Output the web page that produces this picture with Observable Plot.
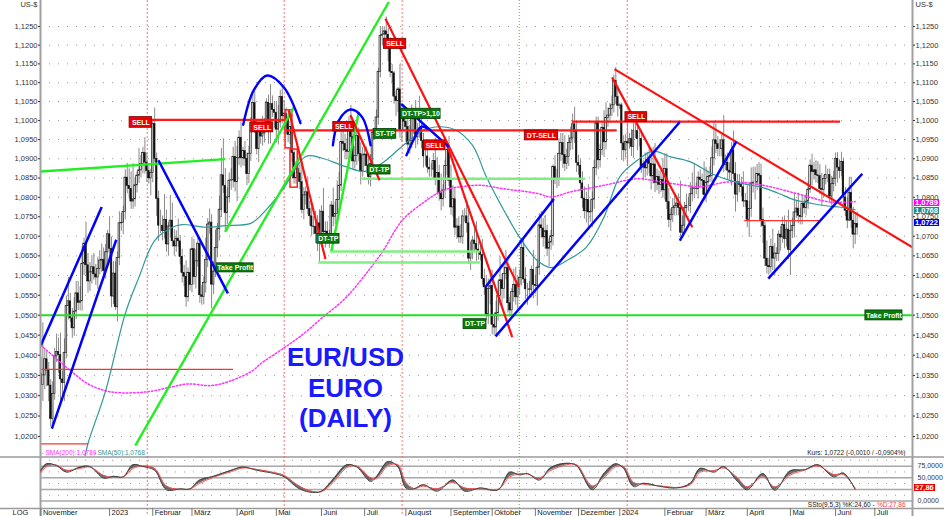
<!DOCTYPE html>
<html><head><meta charset="utf-8">
<script src="https://cdn.jsdelivr.net/npm/d3@7"></script>
<script src="https://cdn.jsdelivr.net/npm/@observablehq/plot@0.6"></script>
<style>
body{margin:0;background:#fff;font-family:"Liberation Sans",Arial,sans-serif;}
#wrap{position:relative;width:944px;height:516px;overflow:hidden;background:#fff;}
.box{position:absolute;color:#fff;font:bold 7.5px "Liberation Sans",Arial,sans-serif;line-height:7px;height:7px;padding:0 1px;white-space:nowrap;}
</style></head><body><div id="wrap"></div>
<script>
// ---------- DATA ----------
// trading days (Mon-Fri) from 14 Nov 2022 to 18 Jun 2024, index 0..416
const firstOpen = 1.0355;
const closes = [
1.0326,1.0350,1.0390,1.0362,1.0325, 1.0243,1.0304,1.0397,1.0408,1.0400,
1.0340,1.0331,1.0406,1.0523,1.0535, 1.0492,1.0467,1.0509,1.0555,1.0531,
1.0535,1.0630,1.0681,1.0626,1.0585, 1.0608,1.0621,1.0603,1.0595,1.0617,
1.0638,1.0640,1.0611,1.0659,1.0705, 1.0668,1.0547,1.0605,1.0520,1.0645,
1.0733,1.0734,1.0762,1.0851,1.0829, 1.0821,1.0789,1.0795,1.0831,1.0856,
1.0870,1.0886,1.0915,1.0890,1.0868, 1.0849,1.0863,1.0991,1.0900,1.0796,
1.0727,1.0727,1.0713,1.0742,1.0679, 1.0725,1.0740,1.0687,1.0674,1.0694,
1.0687,1.0647,1.0606,1.0597,1.0545, 1.0607,1.0576,1.0667,1.0596,1.0636,
1.0681,1.0550,1.0546,1.0581,1.0640, 1.0730,1.0735,1.0577,1.0610,1.0670,
1.0718,1.0768,1.0857,1.0830,1.0759, 1.0800,1.0843,1.0844,1.0905,1.0839,
1.0902,1.0955,1.0901,1.0920,1.0900, 1.0860,1.0913,1.0993,1.1046,1.0991,
1.0925,1.0971,1.0958,1.0966,1.0990, 1.1047,1.0973,1.1043,1.1028,1.1020,
1.0976,1.0995,1.1062,1.1011,1.1018, 1.1003,1.0962,1.0983,1.0915,1.0849,
1.0873,1.0862,1.0839,1.0767,1.0805, 1.0813,1.0770,1.0751,1.0725,1.0724,
1.0706,1.0733,1.0689,1.0763,1.0710, 1.0712,1.0694,1.0700,1.0779,1.0749,
1.0757,1.0793,1.0830,1.0944,1.0939, 1.0922,1.0918,1.0985,1.0957,1.0893,
1.0907,1.0960,1.0912,1.0867,1.0909, 1.0911,1.0881,1.0852,1.0886,1.0968,
1.0970,1.1008,1.1128,1.1225,1.1228, 1.1237,1.1228,1.1201,1.1129,1.1125,
1.1063,1.1051,1.1082,1.0973,1.1017, 1.0997,1.0983,1.0937,1.0947,1.1006,
1.1003,1.0956,1.0973,1.0979,1.0946, 1.0906,1.0906,1.0877,1.0872,1.0872,
1.0894,1.0845,1.0863,1.0810,1.0795, 1.0818,1.0881,1.0923,1.0843,1.0774,
1.0795,1.0722,1.0725,1.0697,1.0699, 1.0751,1.0751,1.0733,1.0643,1.0660,
1.0689,1.0680,1.0666,1.0659,1.0652, 1.0591,1.0570,1.0502,1.0566,1.0573,
1.0476,1.0469,1.0505,1.0548,1.0588, 1.0566,1.0604,1.0619,1.0530,1.0512,
1.0558,1.0576,1.0545,1.0577,1.0594, 1.0670,1.0590,1.0565,1.0565,1.0564,
1.0614,1.0576,1.0573,1.0620,1.0728, 1.0720,1.0697,1.0713,1.0668,1.0684,
1.0700,1.0879,1.0848,1.0848,1.0913, 1.0941,1.0910,1.0887,1.0905,1.0941,
1.0953,1.0990,1.0970,1.0889,1.0882, 1.0836,1.0797,1.0764,1.0793,1.0761,
1.0762,1.0794,1.0876,1.0993,1.0896, 1.0923,1.0981,1.0943,1.1007,1.1013,
1.1030,1.1040,1.1105,1.1062,1.1039, 1.1040,1.0940,1.0922,1.0944,1.0940,
1.0951,1.0931,1.0972,1.0972,1.0951, 1.0951,1.0877,1.0885,1.0875,1.0897,
1.0886,1.0854,1.0885,1.0837,1.0853, 1.0832,1.0845,1.0818,1.0873,1.0788,
1.0742,1.0755,1.0772,1.0777,1.0784, 1.0772,1.0709,1.0727,1.0772,1.0778,
1.0778,1.0808,1.0823,1.0822,1.0821, 1.0851,1.0845,1.0842,1.0806,1.0838,
1.0853,1.0855,1.0901,1.0948,1.0938, 1.0925,1.0925,1.0948,1.0884,1.0890,
1.0869,1.0864,1.0922,1.0860,1.0807, 1.0839,1.0832,1.0826,1.0789,1.0790,
1.0742,1.0770,1.0836,1.0838,1.0838, 1.0860,1.0856,1.0742,1.0726,1.0643,
1.0624,1.0621,1.0673,1.0643,1.0656, 1.0655,1.0704,1.0697,1.0729,1.0693,
1.0717,1.0665,1.0714,1.0726,1.0761, 1.0771,1.0752,1.0749,1.0783,1.0772,
1.0789,1.0820,1.0882,1.0865,1.0870, 1.0857,1.0855,1.0822,1.0819,1.0847,
1.0858,1.0858,1.0802,1.0834,1.0848, 1.0900,1.0877,1.0868,1.0892,1.0800,
1.0765,1.0740,1.0812,1.0740,1.0704, 1.0732,1.0722
];
// upper / lower shadow beyond the body, in pips
const wickUp = [
40,131,25,20,20, 15,30,20,45,35, 55,20,35,25,60, 20,25,35,30,30,
37,43,14,55,30, 25,30,35,25,30, 25,40,30,20,10, 45,30,30,30,15,
30,25,15,20,37, 45,45,92,20,10, 57,23,15,40,25, 20,10,7,42,15,
20,40,25,65,25, 10,65,45,30,20, 50,15,20,20,40, 12,60,30,25,30,
13,15,25,15,55, 15,35,20,25,45, 15,35,70,95,45, 25,20,30,25,40,
30,18,40,10,25, 15,20,15,22,30, 10,20,20,45,15, 10,20,52,22,22,
30,45,18,30,35, 15,15,15,35,10, 20,35,25,55,20, 15,40,20,25,25,
40,20,35,15,60, 25,25,15,10,45, 30,50,35,25,30, 25,30,25,55,40,
25,15,20,30,20, 15,20,20,25,10, 10,20,10,25,20, 12,39,17,18,19,
5,15,5,67,26, 25,20,30,40,35, 10,50,20,85,30, 20,20,35,25,15,
20,60,40,20,50, 15,15,22,35,40, 35,30,20,25,30, 15,20,40,35,25,
10,30,57,20,20, 40,25,30,25,40, 40,25,30,40,60, 15,25,45,20,15,
10,40,45,20,20, 25,25,30,15,20, 10,50,25,20,30, 35,25,40,15,10,
15,5,30,25,40, 25,25,50,20,20, 30,27,45,30,20, 15,30,30,20,40,
30,20,20,16,16, 15,15,45,40,20, 15,25,15,35,30, 5,6,20,20,50,
15,25,30,25,50, 20,20,10,30,20, 30,40,45,55,20, 15,25,55,40,40,
35,15,25,25,20, 25,70,25,15,30, 20,30,40,65,15, 15,20,15,50,40,
15,25,30,50,43, 20,25,15,65,20, 25,20,20,50,30, 20,20,20,40,20,
40,20,40,40,40, 25,30,30,30,10, 45,20,20,45,25, 15,10,20,20,23,
20,50,25,20,50, 20,40,20,20,20, 20,20,15,30,20, 25,35,30,40,10,
25,15,15,20,20, 15,16,20,25,10, 25,35,40,40,35, 25,30
];
const wickDn = [
60,40,35,40,40, 20,25,15,15,45, 55,40,45,15,35, 10,25,20,20,20,
20,25,30,25,30, 25,30,15,20,30, 15,30,25,20,30, 30,28,20,8,37,
20,20,30,20,20, 25,20,20,20,20, 20,20,25,30,30, 15,45,25,10,45,
40,20,25,20,20, 30,30,15,25,15, 15,20,25,25,25, 12,15,20,20,30,
15,20,21,20,25, 20,25,61,25,15, 25,30,20,20,45, 30,15,25,20,25,
50,20,25,20,20, 30,25,20,20,25, 15,35,20,25,25, 20,35,35,20,40,
35,40,15,20,50, 25,20,25,25,15, 15,20,20,10,25, 25,15,25,25,20,
25,45,54,15,25, 40,15,25,20,25, 20,20,30,15,20, 25,20,30,25,20,
20,25,20,35,15, 30,20,20,25,25, 20,10,20,15,25, 15,20,45,15,25,
20,40,30,20,30, 25,40,25,25,20, 40,30,20,20,20, 30,25,15,20,20,
25,15,40,20,30, 20,20,25,15,20, 25,20,30,15,15, 20,15,25,15,30,
20,20,30,20,15, 15,20,15,25,40, 25,21,20,20,25, 50,25,15,25,17,
20,25,20,30,25, 20,10,25,40,20, 20,35,20,50,20, 25,25,30,20,45,
20,25,15,25,20, 20,35,20,15,25, 20,30,30,25,25, 20,25,20,30,38,
25,40,25,20,25, 20,15,40,20,25, 15,20,20,20,30, 10,45,30,20,60,
15,25,30,20,30, 20,15,35,25,20, 25,35,20,25,20, 25,20,20,25,20,
20,30,20,20,25, 20,11,14,20,15, 15,20,20,25,15, 25,20,20,15,20,
20,15,15,20,25, 20,20,20,20,15, 25,20,35,15,45, 20,20,25,15,15,
20,45,20,25,45, 20,30,20,45,20, 20,20,15,30,45, 20,20,35,15,25,
20,25,65,20,30, 15,20,20,20,15, 20,20,10,35,20, 20,20,15,40,20,
15,20,15,25,20, 20,40,20,15,20, 15,21,3,20,36, 25,20
];

const priceTicks = [1.020,1.025,1.030,1.035,1.040,1.045,1.050,1.055,1.060,1.065,1.070,1.075,
  1.080,1.085,1.090,1.095,1.100,1.105,1.110,1.115,1.120,1.125];
const monthIdx = [0,35,57,77,100,120,143,165,186,209,230,252,274,295,318,339,360,382,405,425];
const monthLabels = ["November","2023","Februar","März","April","Mai","Juni","Juli","August",
  "September","Oktober","November","Dezember","2024","Februar","März","April","Mai","Juni","Juli"];

const sma50Idx = [22,24,33,43,50,58,67,72,84,94,107,112,123,135,143,155,165,174,184,194,201,211,220,227,236,
  244,253,260,268,278,287,295,304,312,321,331,342,351,359,368,376,385,393,402,407,415];
const sma50 = [1.0140,1.0183,1.0312,1.0504,1.0596,1.0689,1.0723,1.0730,1.0723,1.0727,1.0733,1.0753,1.0818,
  1.0906,1.0902,1.0880,1.0867,1.0889,1.0932,1.0971,1.0983,1.0976,1.0935,1.0853,1.0766,1.0697,1.0638,1.0620,
  1.0638,1.0672,1.0749,1.0853,1.0896,1.0920,1.0905,1.0892,1.0861,1.0844,1.0834,1.0825,1.0810,1.0792,1.0784,
  1.0777,1.0775,1.0768];
const sma200Idx = [0,7,16,24,33,41,55,67,75,87,97,108,112,122,133,143,155,165,174,184,194,205,215,224,236,
  253,260,270,287,304,314,328,336,351,368,385,402,415];
const sma200 = [1.0425,1.0395,1.0358,1.0329,1.0312,1.0307,1.0310,1.0322,1.0329,1.0325,1.0337,1.0362,1.0379,
  1.0412,1.0450,1.0492,1.0542,1.0600,1.0660,1.0740,1.0783,1.0818,1.0828,1.0831,1.0822,1.0810,1.0801,1.0814,
  1.0831,1.0848,1.0842,1.0831,1.0827,1.0840,1.0831,1.0810,1.0788,1.0789];

const stochIdx = [0,3,8,13,20,25,32,37,42,47,52,58,64,71,76,81,88,97,103,110,119,124,131,137,143,149,156,161,
  168,171,177,182,186,190,195,202,210,216,224,233,239,244,248,254,260,268,273,281,287,293,297,302,307,316,324,
  331,336,343,348,355,360,368,374,382,389,396,404,409,415];
const stochK = [66,80,76,62,73,74,49,53,52,78,74,66,24,26,26,45,53,66,73,66,59,52,28,19,21,47,78,73,42,52,
  85,73,28,26,35,21,45,21,28,24,62,56,59,45,72,81,76,24,59,80,70,31,38,31,28,38,70,62,74,42,24,59,23,65,67,78,52,60,24.6];
const stochD = [60,74,77,66,70,73,55,51,52,70,75,70,32,25,26,38,51,63,71,68,61,55,34,22,20,40,72,75,50,48,
  76,78,40,27,32,26,40,28,26,25,52,58,58,49,66,78,78,32,50,74,74,40,36,32,29,35,62,65,71,50,30,52,30,56,66,75,57,57,27.86];

// annotation lines: [idx1, price1, idx2, price2]
const blueLines = [[0,1.0425,31.0,1.0775],[5.6,1.0219,38.4,1.0691],[59.9,1.0896,95.3,1.0555],
  [183.6,1.1044,207.9,1.0931],[226.6,1.0571,261.4,1.0796],[231.7,1.0447,325.6,1.0996],
  [325.6,1.0689,354.4,1.0945],[370.7,1.0592,418.6,1.0861]];
const blueArcA = [[103.1,1.0989],[108.5,1.1080],[115.3,1.1119],[123.8,1.1088],[132.3,1.0993]];
const blueArcB = [[148.8,1.0935],[151.8,1.1000],[157.8,1.1029],[163.7,1.1009],[168.0,1.0935]];
const blueArcC = [[186.3,1.0909],[190.3,1.0953],[193.9,1.0984],[197.0,1.0979]];
const redLines = [[126.3,1.1027,145.0,1.0642],[157.8,1.1014,172.6,1.0844],[175.6,1.1271,243.6,1.0571],
  [207.1,1.0935,240.2,1.0445],[292.3,1.1136,444.2,1.0672],[291.1,1.1114,332.0,1.0723]];
const greenLines = [[0,1.0867,94.0,1.0899],[48.1,1.0178,177.3,1.1316],[93.9,1.0711,128.9,1.1035],
  [148.1,1.0663,162.0,1.1023]];
// horizontal levels: [idx1, idx2, price]
const redLevels = [[56.7,124.7,1.1002],[124.7,293.7,1.0974],[270.8,407.5,1.0997]];
const redThinLevels = [[-0.2,98.2,1.0365],[-0.2,24.3,1.0182],[358.7,397.3,1.0740]];
const greenMainLevel = [[-0.2,444.2,1.0500]];
const greenLevels = [[163.7,277.6,1.0848],[147.6,224.0,1.0661],[141.6,224.0,1.0633]];
const redBoxes = [[124.7,128.1,1.1027,1.0927],[127.2,130.9,1.0924,1.0825]];
// signal labels: [text, idx1, idx2, priceTop, priceBottom]
const sellLabels = [["SELL",45.2,56.7,1.1009,1.0981],["SELL",107.2,118.4,1.0995,1.0969],
  ["SELL",149.0,159.8,1.0996,1.0971],["SELL",174.8,186.2,1.1217,1.1190],["SELL",195.1,206.2,1.0948,1.0922],
  ["DT-SELL",246.6,263.6,1.0974,1.0948],["SELL",297.9,309.0,1.1022,1.0996]];
const tpLabels = [["Take Profit",89.6,108.4,1.0631,1.0608],["DT-TP",140.8,152.2,1.0706,1.0681],
  ["ST-TP",169.7,181.1,1.0978,1.0952],["DT-TP",166.8,178.2,1.0883,1.0859],
  ["DT-TP>1,10",183.6,203.7,1.1031,1.1004],["DT-TP",215.4,227.1,1.0490,1.0465],
  ["Take Profit",420.2,439.1,1.0512,1.0487]];
const vRed = [54.2,124.0,184.1,298.8];
const vGreen = [243.8];
const lastSma200 = 1.0789, lastSma50 = 1.0768, lastClose = 1.0722;
const lastK = 24.60, lastD = 27.86;

// ---------- BUILD ----------
const fmt4 = v => v.toFixed(4).replace(".", ",");
const fmt2 = v => v.toFixed(2).replace(".", ",");
const FONT = '"Liberation Sans", Arial, sans-serif';
const X = {domain: [-0.2, 444.2], range: [40, 912], axis: null};
const pxPerIdx = 872 / 444.4;
const idxAtPx = px => -0.2 + (px - 40) / pxPerIdx;

const candles = closes.map((c, i) => {
  const o = i === 0 ? firstOpen : closes[i - 1];
  return {i, o, c, up: c >= o, hi: Math.max(o, c) + wickUp[i] / 1e4, lo: Math.min(o, c) - wickDn[i] / 1e4};
});
const seg = a => a.map(([i1, p1, i2, p2]) => ({i1, p1, i2, p2}));
const lev = a => a.map(([i1, i2, p]) => ({i1, i2, p}));
const pts = a => a.map(([i, p]) => ({i, p}));
const lab = a => a.map(([t, i1, i2, p1, p2]) => ({t, i1, i2, p1, p2, ic: (i1 + i2) / 2, pc: Math.sqrt(p1 * p2)}));
const segMark = (a, stroke, w) => Plot.link(seg(a), {x1: "i1", y1: "p1", x2: "i2", y2: "p2", stroke, strokeWidth: w, clip: true});
const levMark = (a, stroke, w) => Plot.ruleY(lev(a), {x1: "i1", x2: "i2", y: "p", stroke, strokeWidth: w, clip: true});
const arcMark = a => Plot.line(pts(a), {x: "i", y: "p", stroke: "#0000ff", strokeWidth: 2.4, curve: "catmull-rom", clip: true});
const labelMarks = (a, fill, border) => {
  const rows = lab(a);
  return [
    Plot.rect(rows, {x1: "i1", x2: "i2", y1: "p1", y2: "p2", fill, stroke: border, strokeWidth: 0.8}),
    Plot.text(rows, {x: "ic", y: "pc", text: "t", fill: "#fff", fontSize: 7, fontWeight: "bold"})
  ];
};

const main = Plot.plot({
  width: 944, height: 456, marginLeft: 40, marginRight: 32, marginTop: 0, marginBottom: 0,
  style: {background: "#fff", fontFamily: FONT, overflow: "visible"},
  x: X,
  y: {type: "log", domain: [1.02, 1.125], range: [436, 26]},
  marks: [
    Plot.ruleY(priceTicks, {stroke: "#9a9a9a", strokeDasharray: "1,8"}),
    Plot.ruleX(vRed, {stroke: "#ff5050", strokeDasharray: "2,2", strokeWidth: 0.8}),
    Plot.ruleX(vGreen, {stroke: "#33bb33", strokeDasharray: "1,2", strokeWidth: 0.9}),
    Plot.ruleX(candles, {x: "i", y1: "lo", y2: "hi", stroke: "#8a8a8a", strokeWidth: 1, clip: true}),
    Plot.rect(candles.filter(d => d.up), {x1: d => d.i - 0.42, x2: d => d.i + 0.42, y1: "o", y2: "c", fill: "#e4e4e4", stroke: "#222", strokeWidth: 0.7, clip: true}),
    Plot.rect(candles.filter(d => !d.up), {x1: d => d.i - 0.42, x2: d => d.i + 0.42, y1: "o", y2: "c", fill: "#111", stroke: "#111", strokeWidth: 0.5, clip: true}),
    Plot.line(sma200Idx.map((i, k) => ({i, p: sma200[k]})), {x: "i", y: "p", stroke: "#ff33ff", strokeWidth: 1.5, strokeDasharray: "1.6,2", curve: "catmull-rom", clip: true}),
    Plot.line(sma50Idx.map((i, k) => ({i, p: sma50[k]})), {x: "i", y: "p", stroke: "#2e9898", strokeWidth: 1.2, curve: "catmull-rom", clip: true}),
    levMark(greenMainLevel, "#22e022", 2),
    levMark(greenLevels, "#80ee80", 2.5),
    levMark(redThinLevels, "#ff3030", 1.2),
    levMark(redLevels, "#ff1a1a", 2.2),
    Plot.rect(redBoxes.map(([i1, i2, p1, p2]) => ({i1, i2, p1, p2})), {x1: "i1", x2: "i2", y1: "p1", y2: "p2", fill: "none", stroke: "#ff2020", strokeWidth: 1.5}),
    segMark(greenLines, "#22ee22", 2.4),
    segMark(redLines, "#ff1010", 2.2),
    segMark(blueLines, "#0000ff", 2.5),
    arcMark(blueArcA), arcMark(blueArcB), arcMark(blueArcC),
    ...labelMarks(sellLabels, "#ee0000", "#7a0000"),
    ...labelMarks(tpLabels, "#0b7a0b", "#053d05"),
    Plot.ruleX([-0.2, 444.2], {stroke: "#a0a0a0", strokeWidth: 2}),
    Plot.axisY({anchor: "right", ticks: priceTicks, tickFormat: fmt4, tickSize: 2, tickPadding: 1, fontSize: 7.5, label: null, color: "#333"}),
    Plot.axisY({anchor: "left", ticks: priceTicks, tickFormat: fmt4, tickSize: 2, tickPadding: 1, fontSize: 7.5, label: null, color: "#333"}),
    Plot.text(["US-$"], {frameAnchor: "top-left", dx: -3, dy: 1, textAnchor: "end", lineAnchor: "top", fontSize: 7.5, fill: "#333"}),
    Plot.text(["US-$"], {frameAnchor: "top-right", dx: 3, dy: 1, textAnchor: "start", lineAnchor: "top", fontSize: 7.5, fill: "#333"}),
    Plot.text(["EUR/USD\nEURO\n(DAILY)"], {frameAnchor: "top-left", dx: 305, dy: 386.5, textAnchor: "middle", lineAnchor: "middle", fontSize: 26, fontWeight: "bold", fill: "#1a1aff", lineHeight: 1.17}),
    Plot.text(["- SMA(200):" + fmt4(lastSma200)], {frameAnchor: "bottom-left", dx: 1, dy: -1.5, textAnchor: "start", lineAnchor: "bottom", fontSize: 6.5, fill: "#ff33ff"}),
    Plot.text(["- SMA(50):" + fmt4(lastSma50)], {frameAnchor: "bottom-left", dx: 53, dy: -1.5, textAnchor: "start", lineAnchor: "bottom", fontSize: 6.5, fill: "#2e9898"}),
    Plot.text(["Kurs: " + fmt4(lastClose) + " (-0,0010 / -0,0904%)"], {frameAnchor: "bottom-right", dx: -7, dy: -1.5, textAnchor: "end", lineAnchor: "bottom", fontSize: 6.5, fill: "#222"})
  ]
});

const SY0 = 44.5, SY100 = -2;
const stochVal = px => 100 * (SY0 - px) / (SY0 - SY100);
const stochRows = stochIdx.map((i, k) => ({i, k: stochK[k], d: stochD[k]}));
const stoch = Plot.plot({
  width: 944, height: 60, marginLeft: 40, marginRight: 32, marginTop: 0, marginBottom: 8,
  style: {background: "#fff", fontFamily: FONT, overflow: "visible"},
  x: X,
  y: {domain: [0, 100], range: [SY0, SY100], axis: null},
  marks: [
    Plot.ruleY([87.5, 62.5, 37.5, 12.5], {stroke: "#9a9a9a", strokeDasharray: "1,8"}),
    Plot.ruleY([75, 50, 25, 0], {stroke: "#a8a8a8", strokeWidth: 1.5}),
    Plot.ruleY([stochVal(0.5), stochVal(52)], {x1: idxAtPx(0), x2: idxAtPx(944), stroke: "#9a9a9a", strokeWidth: 1.5}),
    Plot.ruleX(vRed, {y1: stochVal(0), y2: stochVal(60), stroke: "#ff5050", strokeDasharray: "2,2", strokeWidth: 0.8}),
    Plot.ruleX(vGreen, {y1: stochVal(0), y2: stochVal(60), stroke: "#33bb33", strokeDasharray: "1,2", strokeWidth: 0.9}),
    Plot.ruleX([-0.2, 444.2], {y1: stochVal(0), y2: stochVal(60), stroke: "#a0a0a0", strokeWidth: 2}),
    Plot.ruleX(monthIdx, {y1: stochVal(52), y2: stochVal(60), stroke: "#777", strokeWidth: 1}),
    Plot.areaY(stochRows, {x: "i", y1: "k", y2: "d", fill: "#555", fillOpacity: 0.85, curve: "catmull-rom"}),
    Plot.line(stochRows, {x: "i", y: "d", stroke: "#ff5050", strokeWidth: 1, curve: "catmull-rom"}),
    Plot.line(stochRows, {x: "i", y: "k", stroke: "#444", strokeWidth: 1, curve: "catmull-rom"}),
    Plot.text(monthIdx, {x: d => d, text: (d, j) => monthLabels[j], frameAnchor: "bottom", lineAnchor: "top", dy: 1.5, dx: 2, textAnchor: "start", fontSize: 7.5, fill: "#222"}),
    Plot.text(["LOG"], {frameAnchor: "bottom-left", dx: -20, dy: 1.5, textAnchor: "middle", lineAnchor: "top", fontSize: 7.5, fill: "#222"}),
    Plot.text([75, 50, 0], {y: d => d, text: d => fmt4(d), frameAnchor: "right", dx: 5, textAnchor: "start", fontSize: 7, fill: "#333"}),
    Plot.text(["SSto(9,5,3) %K:" + fmt2(lastK) + " - "], {frameAnchor: "bottom-right", dx: -36, dy: -3.5, textAnchor: "end", lineAnchor: "middle", fontSize: 6.5, fill: "#222"}),
    Plot.text(["%D:" + fmt2(lastD)], {frameAnchor: "bottom-right", dx: -7, dy: -3.5, textAnchor: "end", lineAnchor: "middle", fontSize: 6.5, fill: "#ff4040"})
  ]
});

const wrap = document.getElementById("wrap");
main.style.position = "absolute"; main.style.left = "0px"; main.style.top = "0px";
stoch.style.position = "absolute"; stoch.style.left = "0px"; stoch.style.top = "456px";
wrap.appendChild(main);
wrap.appendChild(stoch);

const yMain = main.scale("y"), yStoch = stoch.scale("y");
function addBox(text, bg, cy) {
  const b = document.createElement("div");
  b.className = "box";
  b.textContent = text;
  b.style.background = bg;
  b.style.left = "914px";
  b.style.top = (cy - 3.5) + "px";
  wrap.appendChild(b);
}
addBox(fmt4(lastSma200), "#ff00ff", yMain.apply(lastSma200) + 1);
addBox(fmt4(lastSma50), "#1f8c8c", yMain.apply(lastSma50) + 1);
addBox(fmt4(lastClose), "#0000ee", yMain.apply(lastClose) - 5);
addBox(fmt2(lastD), "#ee0000", 456 + yStoch.apply(lastD));
</script></body></html>
